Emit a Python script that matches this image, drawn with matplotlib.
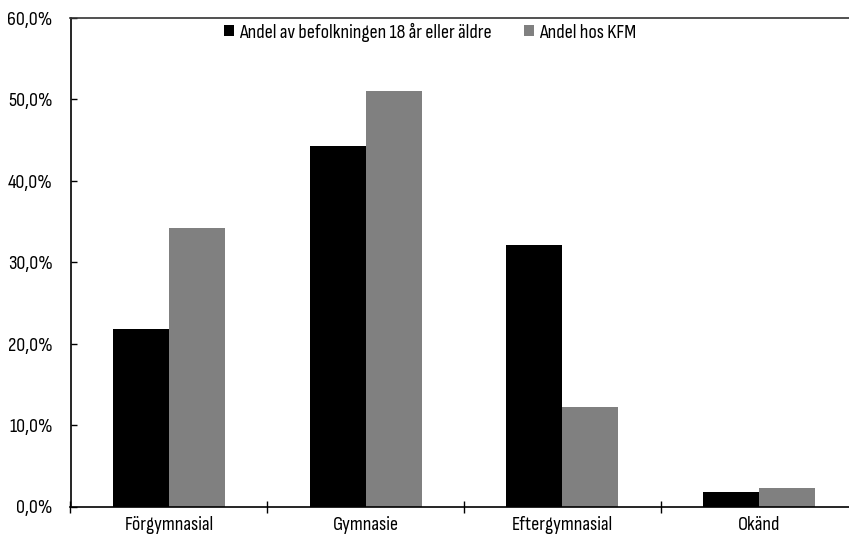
import numpy as np
import matplotlib.pyplot as plt
from matplotlib.ticker import FuncFormatter

# Data
kategorier = ['Förgymnasial', 'Gymnasie', 'Eftergymnasial', 'Okänd']
befolkning = [21.8, 44.3, 32.1, 1.8]   # Andel av befolkningen 18 år eller äldre
kfm = [34.2, 51.0, 12.2, 2.3]          # Andel hos KFM

plt.rcParams['font.family'] = ['Sofia Sans Condensed', 'DejaVu Sans']
fs = 14.5

fig = plt.figure(figsize=(8.49, 5.38), dpi=100)
W, H = 849, 538
ax = fig.add_axes([70.5 / W, 1 - 506.5 / H, 787 / W, 488.5 / H])

x = np.arange(len(kategorier))
bw = 0.285
ax.bar(x - bw / 2, befolkning, bw, color='black', label='Andel av befolkningen 18 år eller äldre')
ax.bar(x + bw / 2, kfm, bw, color='#808080', label='Andel hos KFM')

ax.set_xlim(-0.5, len(kategorier) - 0.5)
ax.set_ylim(0, 60)
ax.set_yticks(np.arange(0, 61, 10))
ax.yaxis.set_major_formatter(FuncFormatter(lambda v, p: f'{v:.1f}%'.replace('.', ',')))
ax.tick_params(axis='y', direction='in', length=4, labelsize=fs, pad=13, width=1)

ax.set_xticks(x)
ax.set_xticklabels(kategorier, fontsize=fs)
ax.tick_params(axis='x', length=0, pad=7)
ax.set_xticks(np.arange(-0.5, len(kategorier)), minor=True)
ax.tick_params(axis='x', which='minor', direction='inout', length=8, width=1)

for s in ['left', 'bottom', 'top']:
    ax.spines[s].set_linewidth(1.2)
ax.spines['right'].set_visible(False)
ax.spines['top'].set_color('#333333')

ax.legend(loc='center', bbox_to_anchor=(430 / W, 1 - 32 / H), bbox_transform=fig.transFigure,
          ncol=2, frameon=False, fontsize=fs, handlelength=0.5, handleheight=0.5,
          handletextpad=0.25, columnspacing=1.6)

fig.savefig('out.png', dpi=100)
